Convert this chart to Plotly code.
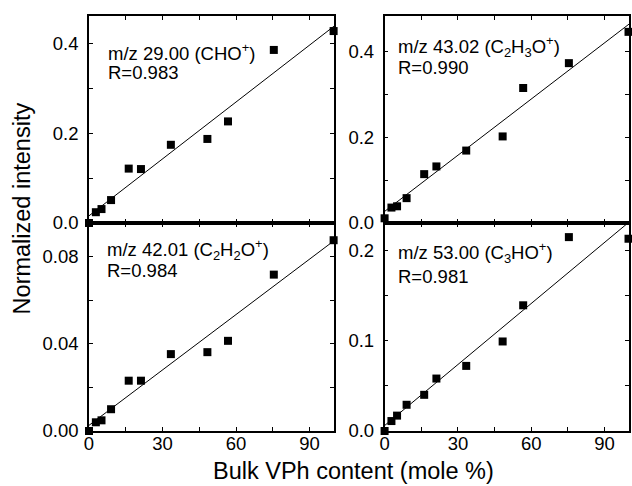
import plotly.graph_objects as go

# ---- data ----
vph_content = [0, 2.8, 5.1, 9.0, 16.2, 21.2, 33.4, 48.3, 56.7, 75.4, 99.8]

int_mz29 = [0.0, 0.024, 0.031, 0.051, 0.121, 0.120, 0.174, 0.187, 0.226, 0.385, 0.427]
int_mz43 = [0.011, 0.036, 0.039, 0.058, 0.114, 0.132, 0.169, 0.202, 0.315, 0.373, 0.446]
int_mz42 = [0.0, 0.0040, 0.0049, 0.0100, 0.0231, 0.0231, 0.0353, 0.0362, 0.0414, 0.0718, 0.0876]
int_mz53 = [0.0, 0.011, 0.017, 0.029, 0.040, 0.058, 0.072, 0.099, 0.139, 0.2144, 0.2126]

fit_x = [0, 100]
fit_mz29 = [0.016, 0.438]
fit_mz43 = [0.027, 0.464]
fit_mz42 = [0.0026, 0.0874]
fit_mz53 = [0.006, 0.231]

label_line1 = ["m/z 29.00 (CHO<sup>+</sup>)",
               "m/z 43.02 (C<sub>2</sub>H<sub>3</sub>O<sup>+</sup>)",
               "m/z 42.01 (C<sub>2</sub>H<sub>2</sub>O<sup>+</sup>)",
               "m/z 53.00 (C<sub>3</sub>HO<sup>+</sup>)"]
label_line2 = ["R=0.983", "R=0.990", "R=0.984", "R=0.981"]

x_tickvals = [0, 15, 30, 45, 60, 75, 90]
x_ticktext = ["0", "", "30", "", "60", "", "90"]

y_tickvals = [[0, 0.1, 0.2, 0.3, 0.4], [0, 0.1, 0.2, 0.3, 0.4],
              [0, 0.02, 0.04, 0.06, 0.08], [0, 0.05, 0.1, 0.15, 0.2]]
y_ticktext = [["0.0", "", "0.2", "", "0.4"], ["0.0", "", "0.2", "", "0.4"],
              ["0.00", "", "0.04", "", "0.08"], ["0.0", "", "0.1", "", "0.2"]]
y_ranges = [[0, 0.4605], [0, 0.483], [0, 0.0955], [0, 0.23]]

series = [int_mz29, int_mz43, int_mz42, int_mz53]
fits = [fit_mz29, fit_mz43, fit_mz42, fit_mz53]

FONT = "Liberation Sans, Arial, sans-serif"
TICK_SIZE = 18.5
LABEL_SIZE = 18.5
TITLE_SIZE = 23.5

# panel order: TL, TR, BL, BR
x_domains = [[0, 0.4539], [0.5474, 1], [0, 0.4539], [0.5474, 1]]
y_domains = [[0.5012, 1], [0.5012, 1], [0, 0.5012], [0, 0.5012]]
label_pos = [(0.069, 0.828, 0.727), (0.045, 0.852, 0.749),
             (0.065, 0.874, 0.770), (0.047, 0.858, 0.745)]

fig = go.Figure()
layout = dict(
    width=632, height=486,
    margin=dict(l=89, r=1, t=16, b=55),
    paper_bgcolor="white", plot_bgcolor="white",
    showlegend=False,
    font=dict(family=FONT, size=TICK_SIZE, color="black"),
)

annotations = []
for i in range(4):
    n = "" if i == 0 else str(i + 1)
    xa, ya = "x" + n, "y" + n
    fig.add_trace(go.Scatter(
        x=vph_content, y=series[i], mode="markers",
        marker=dict(symbol="square", size=8, color="black"),
        cliponaxis=False, xaxis=xa, yaxis=ya))
    fig.add_trace(go.Scatter(
        x=fit_x, y=fits[i], mode="lines",
        line=dict(color="black", width=1),
        xaxis=xa, yaxis=ya))
    axcommon = dict(showline=True, linecolor="black", linewidth=1.6,
                    mirror="ticks", ticks="inside", ticklen=4, tickwidth=1.2,
                    tickcolor="black", showgrid=False, zeroline=False,
                    tickfont=dict(family=FONT, size=TICK_SIZE, color="black"))
    layout["xaxis" + n] = dict(
        axcommon, domain=x_domains[i], range=[0, 100],
        tickmode="array", tickvals=x_tickvals, ticktext=x_ticktext,
        showticklabels=(i >= 2), anchor=ya, ticklabelstandoff=-5)
    layout["yaxis" + n] = dict(
        axcommon, domain=y_domains[i], range=y_ranges[i],
        tickmode="array", tickvals=y_tickvals[i], ticktext=y_ticktext[i],
        anchor=xa, ticklabelstandoff=5)
    lx, ly1, ly2 = label_pos[i]
    annotations.append(dict(text=label_line1[i], x=lx, y=ly1,
                            xref=xa + " domain", yref=ya + " domain",
                            xanchor="left", yanchor="middle", showarrow=False,
                            font=dict(family=FONT, size=LABEL_SIZE, color="black")))
    annotations.append(dict(text=label_line2[i], x=lx, y=ly2,
                            xref=xa + " domain", yref=ya + " domain",
                            xanchor="left", yanchor="middle", showarrow=False,
                            font=dict(family=FONT, size=LABEL_SIZE, color="black")))

annotations.append(dict(text="Normalized intensity", x=-0.1236, y=0.537,
                        xref="paper", yref="paper", textangle=-90,
                        xanchor="center", yanchor="middle", showarrow=False,
                        font=dict(family=FONT, size=TITLE_SIZE, color="black")))
annotations.append(dict(text="Bulk VPh content (mole %)", x=0.49, y=-0.0964,
                        xref="paper", yref="paper",
                        xanchor="center", yanchor="middle", showarrow=False,
                        font=dict(family=FONT, size=TITLE_SIZE, color="black")))
layout["annotations"] = annotations

fig.update_layout(**layout)
fig.write_html("out.html")
